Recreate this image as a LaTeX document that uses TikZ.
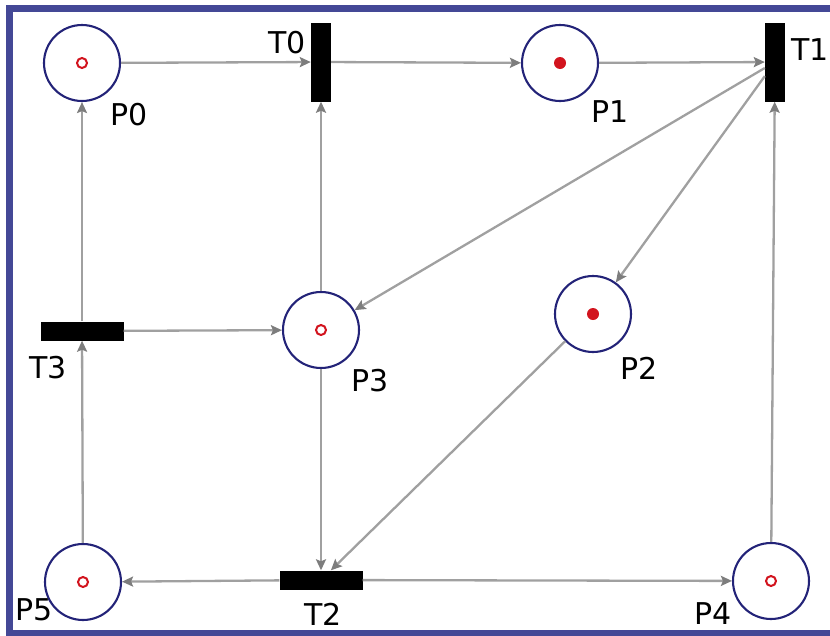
\documentclass[tikz,border=0pt]{standalone}
\usepackage{fontspec}
\setmainfont{DejaVu Sans}
\usetikzlibrary{arrows.meta}
\definecolor{frameblue}{RGB}{68,72,150}
\definecolor{placeblue}{RGB}{35,35,120}
\definecolor{arcgray}{RGB}{160,160,160}
\definecolor{headgray}{RGB}{125,125,125}
\definecolor{tokred}{RGB}{210,20,30}
\begin{document}
\begin{tikzpicture}[x=1pt,y=-1pt,
  place/.style={circle,draw=placeblue,line width=2.1pt,minimum size=76pt,inner sep=0pt,fill=white},
  trans/.style={fill=black,draw=none,inner sep=0pt},
  vbar/.style={trans,minimum width=20pt,minimum height=79pt},
  hbar/.style={trans,minimum width=83pt,minimum height=19pt},
  pnarc/.style={draw=arcgray,line width=2.3pt,-{Stealth[length=11pt,width=10pt,inset=2pt,color=headgray]}},
  lbl/.style={font=\fontsize{30}{30}\selectfont,text=black,inner sep=0pt},
  ring/.style={circle,draw=tokred,line width=2pt,minimum size=10pt,inner sep=0pt},
  tokdot/.style={circle,fill=tokred,minimum size=12pt,inner sep=0pt}]
\useasboundingbox (0,0) rectangle (830,635);
\draw[frameblue,line width=7pt] (9,8) rectangle (900,633);

% places
\node[place] (P0) at (82,63) {};
\node[place] (P1) at (560,63) {};
\node[place] (P2) at (593,314) {};
\node[place] (P3) at (321,330) {};
\node[place] (P4) at (771,581) {};
\node[place] (P5) at (83,582) {};

% tokens
\node[ring] (k0) at (P0) {};
\node[tokdot] (k1) at (P1) {};
\node[tokdot] (k2) at (P2) {};
\node[ring] (k3) at (P3) {};
\node[ring] (k4) at (P4) {};
\node[ring] (k5) at (P5) {};

% transitions
\node[vbar] (T0) at (321,62) {};
\node[vbar] (T1) at (775,62) {};
\node[hbar] (T3) at (82,331) {};
\node[hbar] (T2) at (321,580) {};

% arcs
\draw[pnarc] (P0) -- (T0);
\draw[pnarc] (T0) -- (P1);
\draw[pnarc] (P1) -- (T1);
\draw[pnarc] (T1) -- (P3);
\draw[pnarc] (T1) -- (P2);
\draw[pnarc] (P4) -- (T1);
\draw[pnarc] (P3) -- (T0);
\draw[pnarc] (T3) -- (P0);
\draw[pnarc] (T3) -- (P3);
\draw[pnarc] (P5) -- (T3);
\draw[pnarc] (P3) -- (T2);
\draw[pnarc] (P2) -- (T2);
\draw[pnarc] (T2) -- (P5);
\draw[pnarc] (T2) -- (P4);

% labels
\node[lbl] (lP0) at (129,115) {P0};
\node[lbl] (lT0) at (287,43) {T0};
\node[lbl] (lP1) at (610,112) {P1};
\node[lbl] (lT1) at (810,50) {T1};
\node[lbl] (lT3) at (48,368) {T3};
\node[lbl] (lP3) at (370,381) {P3};
\node[lbl] (lP2) at (639,368) {P2};
\node[lbl] (lP5) at (34,610) {P5};
\node[lbl] (lT2) at (323,614) {T2};
\node[lbl] (lP4) at (713,614) {P4};
\end{tikzpicture}
\end{document}
